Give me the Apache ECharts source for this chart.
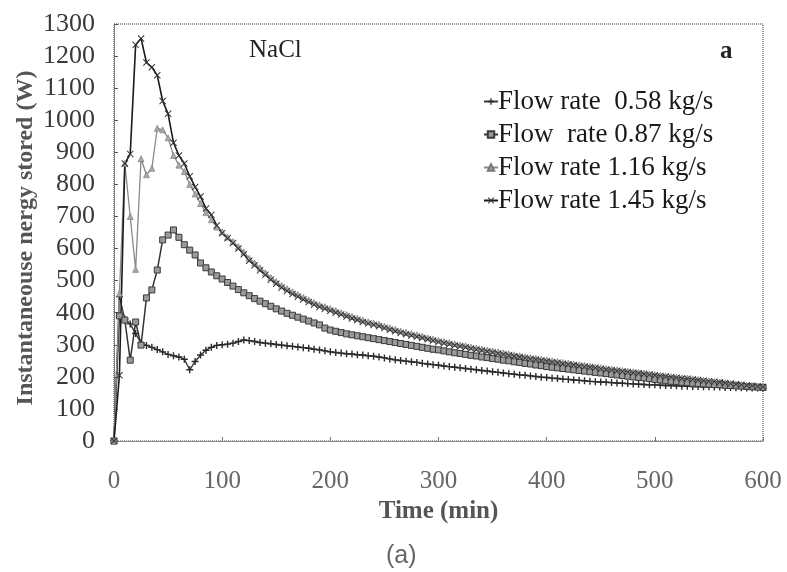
<!DOCTYPE html>
<html><head><meta charset="utf-8">
<script src="https://cdn.jsdelivr.net/npm/echarts@6/dist/echarts.min.js"></script>
<style>html,body{margin:0;padding:0;background:#fff}#c{width:787px;height:572px}</style>
</head><body><div id="c"></div>
<script>
const timeMin = [0,5,10,15,20,25,30,35,40,45,50,55,60,65,70,75,80,85,90,95,
100,105,110,115,120,125,130,135,140,145,150,155,160,165,170,175,180,185,190,195,
200,205,210,215,220,225,230,235,240,245,250,255,260,265,270,275,280,285,290,295,
300,305,310,315,320,325,330,335,340,345,350,355,360,365,370,375,380,385,390,395,
400,405,410,415,420,425,430,435,440,445,450,455,460,465,470,475,480,485,490,495,
500,505,510,515,520,525,530,535,540,545,550,555,560,565,570,575,580,585,590,595,600];

const flow058 = [0,450,380,365,335,305,298,292,285,278,
270,266,262,255,222,248,268,283,292,298,
300,302,305,310,315,313,310,307,305,303,
301,299,297,295,293,291,289,286,284,281,
278,276,274,272,271,269,268,266,264,262,
259,256,253,251,249,247,245,242,240,238,
236,234,232,230,228,226,224,222,220,218,
216,214,212,210,208,206,205,203,201,199,
198,196,195,193,192,190,189,188,186,185,
184,183,182,181,180,179,178,177,176,175,
175,174,173,173,172,171,171,170,170,169,
169,168,168,167,167,166,166,165,165,165,165];

const flow087 = [0,390,377,252,371,299,446,471,533,627,
642,658,635,612,595,580,555,540,527,515,
505,494,483,472,462,453,444,436,428,420,
412,405,398,392,386,380,374,368,362,352,
346,342,338,334,331,328,325,322,319,316,
313,310,307,304,301,298,295,292,289,286,
284,281,278,275,273,270,267,265,262,260,
257,255,252,250,247,245,242,240,237,235,
232,230,228,226,224,222,220,218,216,214,
212,210,208,206,204,202,200,198,197,195,
192,190,188,186,185,183,182,180,179,178,
177,176,175,174,173,172,171,170,169,168,167];

const flow116 = [0,460,865,700,535,880,830,850,975,970,
945,890,860,840,800,770,740,712,690,667,
652,636,622,606,589,570,555,540,525,510,
497,485,475,465,457,448,440,432,425,419,
413,407,400,394,389,383,377,372,368,364,
358,353,348,343,339,335,331,327,322,318,
314,310,307,303,300,297,293,290,287,284,
281,278,275,272,269,266,263,260,258,255,
253,250,248,245,243,240,238,236,233,231,
229,226,224,222,220,218,216,214,212,210,
207,205,203,201,199,197,196,194,192,190,
188,186,184,182,180,178,176,174,173,171,169];

const flow145 = [0,205,865,895,1235,1255,1180,1165,1140,1060,
1020,930,890,865,825,792,762,725,705,672,
648,632,617,600,582,562,548,532,518,503,
490,478,468,458,450,441,433,425,418,412,
406,400,394,388,382,377,371,366,362,358,
352,347,342,337,333,329,325,321,317,313,
309,305,302,298,295,292,288,285,282,279,
276,273,270,267,264,262,259,256,254,251,
249,246,244,241,239,237,234,232,230,228,
225,223,221,219,217,215,213,211,209,207,
205,203,201,199,197,195,194,192,190,188,
186,185,183,181,179,177,175,173,172,170,168];

const seriesNames = ['Flow rate  0.58 kg/s', 'Flow  rate 0.87 kg/s', 'Flow rate 1.16 kg/s', 'Flow rate 1.45 kg/s'];
const xTicks = [0,100,200,300,400,500,600];
const yTicks = [0,100,200,300,400,500,600,700,800,900,1000,1100,1200,1300];
const yTitle = 'Instantaneouse nergy stored (W)';

const serif = 'Liberation Serif';
const plusPath = 'path://M4,0H6V4H10V6H6V10H4V6H0V4H4Z';
const xPath = 'path://M0,1L1,0L5,4L9,0L10,1L6,5L10,9L9,10L5,6L1,10L0,9L4,5Z';

function pairs(vals){ return timeMin.map((t,i)=>[t, vals[i]]); }

const styles = [
  {data: flow058, symbol: plusPath, size: 7, line: '#3a3a3a', width: 1.4, fill: '#2a2a2a', border: '#2a2a2a', bw: 0},
  {data: flow087, symbol: 'rect', size: 6, line: '#333', width: 1.5, fill: '#9a9a9a', border: '#3a3a3a', bw: 1},
  {data: flow116, symbol: 'triangle', size: 6, line: '#8a8a8a', width: 1.3, fill: '#a8a8a8', border: '#777', bw: 0.6},
  {data: flow145, symbol: xPath, size: 7, line: '#1a1a1a', width: 1.6, fill: '#333', border: '#333', bw: 0}
];

const chart = echarts.init(document.getElementById('c'), null, {renderer: 'canvas'});
chart.setOption({
  animation: false,
  backgroundColor: '#fff',
  grid: {left: 114, right: 24, top: 24, bottom: 131, show: true, borderColor: '#333', borderWidth: 1, borderType: 'dotted'},
  title: [
    {text: 'NaCl', left: 244, top: 33, textStyle: {fontFamily: serif, fontSize: 25, fontWeight: 'normal', color: '#222'}},
    {text: 'a', left: 715, top: 34, textStyle: {fontFamily: serif, fontSize: 25, fontWeight: 'bold', color: '#222'}},
    {text: '(a)', left: 381, top: 539, textStyle: {fontFamily: 'Liberation Sans', fontSize: 25, fontWeight: 'normal', color: '#666'}}
  ],
  graphic: [{
    type: 'text', x: 26, y: 238, rotation: Math.PI / 2,
    style: {text: yTitle, font: 'bold 24px "Liberation Serif"', fill: '#555', align: 'center', verticalAlign: 'middle'}
  }],
  legend: {
    orient: 'vertical', left: 478, top: 83, itemWidth: 14, itemHeight: 8, itemGap: 6,
    selectedMode: false,
    textStyle: {fontFamily: serif, fontSize: 27, color: '#1a1a1a', padding: [0,0,0,-5]},
    data: seriesNames
  },
  xAxis: {
    type: 'value', min: 0, max: 600, interval: 100,
    name: 'Time (min)', nameLocation: 'middle', nameGap: 46,
    nameTextStyle: {fontFamily: serif, fontSize: 25, fontWeight: 'bold', color: '#555'},
    axisLine: {show: true, lineStyle: {color: '#8a8a8a', width: 1.2}},
    axisTick: {show: true, inside: true, length: 4, lineStyle: {color: '#777'}},
    axisLabel: {fontFamily: serif, fontSize: 25, color: '#666', margin: 28, formatter: v => xTicks.includes(v) ? String(v) : ''},
    splitLine: {show: false}
  },
  yAxis: {
    type: 'value', min: 0, max: 1300, interval: 100,
    axisLine: {show: true, lineStyle: {color: '#777', width: 1, type: 'dotted'}},
    axisTick: {show: true, inside: true, length: 4, lineStyle: {color: '#555'}},
    axisLabel: {fontFamily: serif, fontSize: 26, color: '#3a3a3a', margin: 19, formatter: v => yTicks.includes(v) ? String(v) : ''},
    splitLine: {show: false}
  },
  series: styles.map((s, i) => ({
    name: seriesNames[i], type: 'line', data: pairs(s.data),
    symbol: s.symbol, symbolSize: s.size, showSymbol: true, showAllSymbol: true,
    lineStyle: {color: s.line, width: s.width},
    itemStyle: {color: s.fill, borderColor: s.border, borderWidth: s.bw},
    emphasis: {disabled: true}
  }))
});
</script>
</body></html>
